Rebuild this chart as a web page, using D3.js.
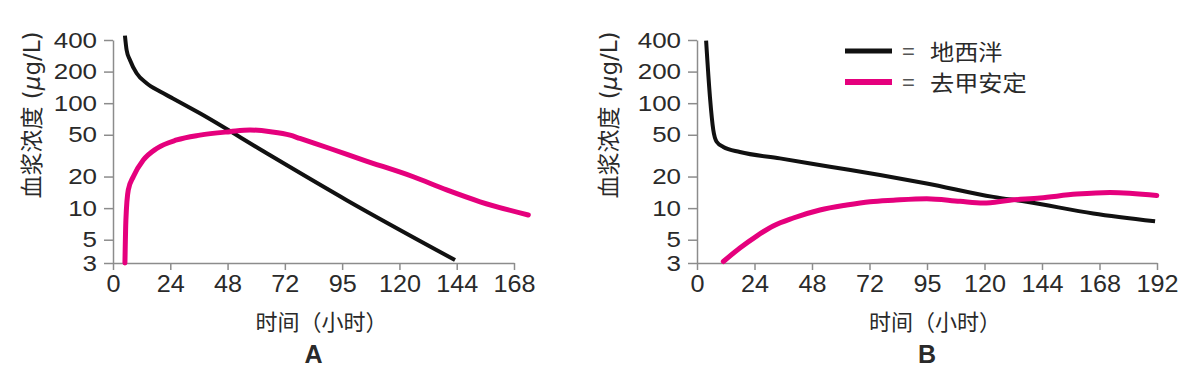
<!DOCTYPE html>
<html>
<head>
<meta charset="utf-8">
<script src="https://cdn.jsdelivr.net/npm/d3@7"></script>
<style>
body { margin: 0; background: #fff; }
svg text { fill: #2a2a2a; }
</style>
</head>
<body>
<svg width="1200" height="382"></svg>
<script>
// y ticks (log scale, µg/L)
var yTicks = [3, 5, 10, 20, 50, 100, 200, 400];

// x ticks in hours, and the labels printed under them
var xTicksA = [0, 24, 48, 72, 96, 120, 144, 168];
var xLabelsA = ["0", "24", "48", "72", "95", "120", "144", "168"];
var xTicksB = [0, 24, 48, 72, 96, 120, 144, 168, 192];
var xLabelsB = ["0", "24", "48", "72", "95", "120", "144", "168", "192"];

var seriesNames = ["地西泮", "去甲安定"];
var seriesColors = ["#111111", "#e5007d"];

// [hours, concentration]
var diazepamA = [[5, 440], [5.7, 321], [7.1, 258], [9.9, 193], [14.1, 155], [19.7, 129],
  [25.1, 111], [36.4, 80], [64.4, 33.3], [97.9, 11.9], [143.3, 3.2]];
var nordazepamA = [[5, 3], [5.4, 7.7], [6.4, 14.9], [8.5, 19.9], [12.7, 28.7], [18.3, 37],
  [26.7, 44.6], [36.4, 49.6], [49, 53.5], [57.4, 55.5], [66, 53.5], [74.2, 49.6], [78.3, 46.1],
  [90.9, 37], [104.9, 28.7], [125.8, 19.9], [139.8, 14.9], [153.8, 11.5], [174, 8.6]];

var diazepamB = [[3.8, 394], [5.4, 115], [6.8, 55.5], [8.2, 42.9], [11, 38.3], [17.9, 34.3],
  [34.6, 29.8], [55.5, 24.8], [76.4, 20.7], [95.9, 17.2], [123.7, 12.8], [137.6, 11.5],
  [165.4, 8.9], [191.2, 7.5]];
var nordazepamB = [[11, 3.1], [17.9, 4.17], [24.9, 5.42], [31.8, 6.76], [40.2, 8.05], [51.3, 9.6],
  [62.5, 10.7], [72.2, 11.5], [81.9, 11.9], [95.9, 12.3], [109.8, 11.6], [119.5, 11.2],
  [130.6, 11.9], [143.2, 12.5], [158.5, 13.6], [172.4, 14.1], [191.9, 13.2]];

var svg = d3.select("svg");

var y = d3.scaleLog().domain([3, 400]).range([263, 40]);

var panels = [
  { label: "A", x0: 113, x1: 514, maxH: 168, ticks: xTicksA, labels: xLabelsA,
    series: [diazepamA, nordazepamA], titleX: 40, legend: false },
  { label: "B", x0: 697, x1: 1157, maxH: 192, ticks: xTicksB, labels: xLabelsB,
    series: [diazepamB, nordazepamB], titleX: 617, legend: true }
];

var axisColor = "#8c8c8c";
var ySx = 1.18, xSx = 1.05;

panels.forEach(function(p) {
  var x = d3.scaleLinear().domain([0, p.maxH]).range([p.x0, p.x1]);
  var g = svg.append("g");

  // x axis
  var gx = g.append("g")
    .attr("transform", "translate(0,263)")
    .call(d3.axisBottom(x)
      .tickValues(p.ticks)
      .tickFormat(function(d, i) { return p.labels[i]; })
      .tickSize(7).tickSizeOuter(0).tickPadding(5));
  gx.selectAll("text")
    .attr("font-family", "'Liberation Sans', Arial, sans-serif")
    .attr("font-size", 24)
    .attr("transform", "scale(" + xSx + ",1)");

  // y axis
  var gy = g.append("g")
    .attr("transform", "translate(" + p.x0 + ",0)")
    .call(d3.axisLeft(y)
      .tickValues(yTicks)
      .tickFormat(d3.format("d"))
      .tickSize(9).tickSizeOuter(0));
  gy.selectAll("text")
    .attr("font-family", "'Liberation Sans', Arial, sans-serif")
    .attr("font-size", 22)
    .attr("x", -16 / ySx)
    .attr("transform", "scale(" + ySx + ",1)");

  g.selectAll(".domain, .tick line")
    .attr("stroke", axisColor)
    .attr("stroke-width", 1.5);

  // curves
  var line = d3.line()
    .x(function(d) { return x(d[0]); })
    .y(function(d) { return y(d[1]); })
    .curve(d3.curveMonotoneX);

  p.series.forEach(function(s, i) {
    g.append("path")
      .datum(s)
      .attr("fill", "none")
      .attr("stroke", seriesColors[i])
      .attr("stroke-width", i == 0 ? 4 : 5)
      .attr("stroke-linecap", i == 0 ? "butt" : "round")
      .attr("stroke-linejoin", "round")
      .attr("d", line);
  });

  // axis titles
  var yt = g.append("text")
    .attr("transform", "translate(" + p.titleX + ",115) rotate(-90)")
    .attr("text-anchor", "middle")
    .attr("font-family", "'DejaVu Sans', 'Noto Sans CJK SC', sans-serif")
    .attr("font-size", 23);
  yt.append("tspan").text("血浆浓度 (");
  yt.append("tspan").attr("font-style", "italic").text("μ");
  yt.append("tspan").text("g/L)");

  var cx = (p.x0 + p.x1) / 2;
  g.append("text")
    .attr("x", cx + 8)
    .attr("y", 330)
    .attr("text-anchor", "middle")
    .attr("font-family", "'Noto Sans CJK SC', sans-serif")
    .attr("font-size", 22)
    .text("时间（小时）");

  g.append("text")
    .attr("x", cx)
    .attr("y", 363)
    .attr("text-anchor", "middle")
    .attr("font-family", "'Liberation Sans', Arial, sans-serif")
    .attr("font-weight", "bold")
    .attr("font-size", 25)
    .text(p.label);

  if (p.legend) {
    var lg = g.append("g");
    var rowY = [51, 82];
    seriesNames.forEach(function(name, i) {
      lg.append("line")
        .attr("x1", 845).attr("x2", 892)
        .attr("y1", rowY[i]).attr("y2", rowY[i])
        .attr("stroke", seriesColors[i])
        .attr("stroke-width", i == 0 ? 5 : 6);
      lg.append("text")
        .attr("x", 902).attr("y", rowY[i] + 8)
        .attr("font-family", "'Liberation Sans', Arial, sans-serif")
        .attr("font-size", 22)
        .style("fill", "#555")
        .text("=");
      lg.append("text")
        .attr("x", 930 / 1.1).attr("y", rowY[i] + 9)
        .attr("transform", "scale(1.1,1)")
        .attr("font-family", "'Noto Sans CJK SC', sans-serif")
        .attr("font-size", 22)
        .text(name);
    });
  }
});
</script>
</body>
</html>
